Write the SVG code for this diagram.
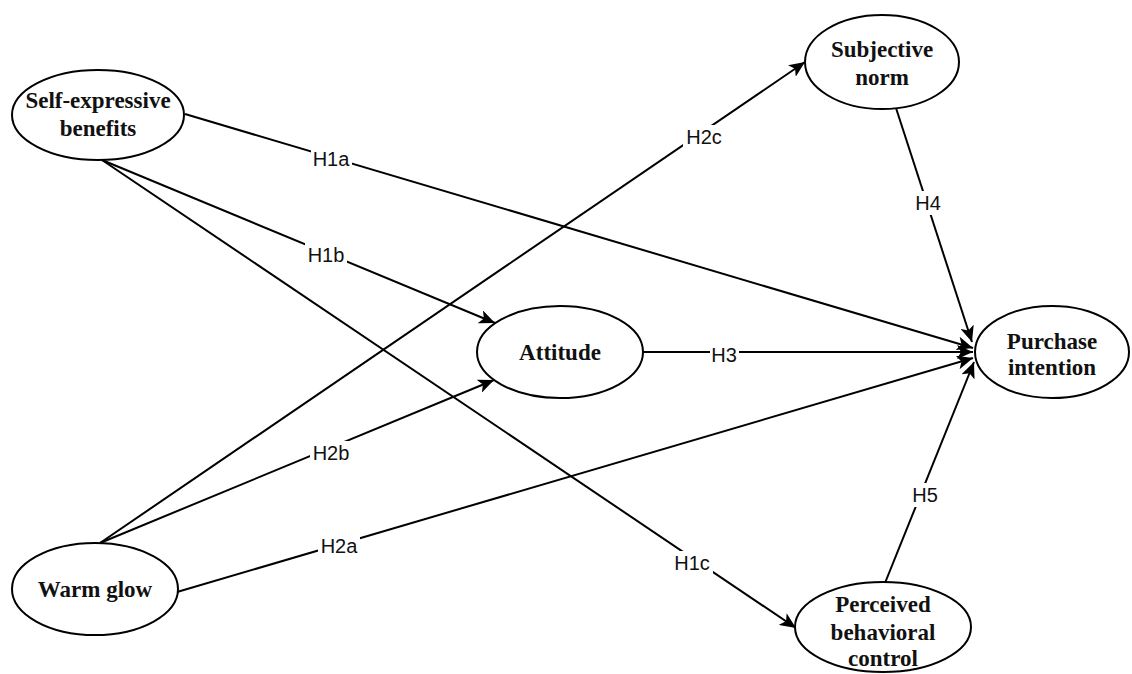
<svg xmlns="http://www.w3.org/2000/svg" width="1132" height="674" viewBox="0 0 1132 674">
<style>
.node ellipse{fill:#fff;stroke:#000;stroke-width:2}
.node text{font-family:"Liberation Serif",serif;font-weight:bold;font-size:23px;text-anchor:middle;fill:#111}
.edge line{stroke:#000;stroke-width:2}
.lbl rect{fill:#fff}
.lbl text{font-family:"Liberation Sans",Arial,sans-serif;font-size:20px;text-anchor:middle;fill:#111}
</style>
<defs>
<marker id="arr" markerUnits="userSpaceOnUse" markerWidth="18" markerHeight="14" refX="16" refY="7" orient="auto">
<path d="M0,0 L16,7 L0,14 L4,7 Z" fill="#000"/>
</marker>
</defs>
<rect width="1132" height="674" fill="#fff"/>
<g id="connectors" class="edge">
<line x1="185" y1="114" x2="973" y2="348" marker-end="url(#arr)"/>
<line x1="102" y1="160" x2="495" y2="323" marker-end="url(#arr)"/>
<line x1="102" y1="160" x2="796" y2="628" marker-end="url(#arr)"/>
<line x1="100" y1="543" x2="805" y2="62" marker-end="url(#arr)"/>
<line x1="100" y1="543" x2="494" y2="380" marker-end="url(#arr)"/>
<line x1="177" y1="592" x2="973" y2="358" marker-end="url(#arr)"/>
<line x1="643" y1="352" x2="973" y2="352" marker-end="url(#arr)"/>
<line x1="896" y1="108" x2="972" y2="342" marker-end="url(#arr)"/>
<line x1="885" y1="583" x2="974" y2="362" marker-end="url(#arr)"/>
</g>
<g id="labels" class="lbl">
<rect x="311" y="147" width="41" height="24"/><text x="331" y="166">H1a</text>
<rect x="305" y="243" width="42" height="24"/><text x="326" y="262">H1b</text>
<rect x="671" y="551" width="42" height="24"/><text x="692" y="570">H1c</text>
<rect x="683" y="125" width="42" height="24"/><text x="704" y="144">H2c</text>
<rect x="310" y="441" width="42" height="24"/><text x="331" y="460">H2b</text>
<rect x="318" y="534" width="42" height="24"/><text x="339" y="553">H2a</text>
<rect x="710" y="343" width="29" height="24"/><text x="724" y="362">H3</text>
<rect x="914" y="191" width="29" height="24"/><text x="928" y="210">H4</text>
<rect x="911" y="483" width="29" height="24"/><text x="925" y="502">H5</text>
</g>
<g id="self-expressive" class="node">
<ellipse cx="98" cy="115" rx="86" ry="45"/>
<text x="98" y="108">Self-expressive</text>
<text x="98" y="136">benefits</text>
</g>
<g id="subjective-norm" class="node">
<ellipse cx="882" cy="62" rx="77" ry="47"/>
<text x="882" y="57">Subjective</text>
<text x="882" y="85">norm</text>
</g>
<g id="attitude" class="node">
<ellipse cx="560" cy="352" rx="83" ry="46"/>
<text x="560" y="360">Attitude</text>
</g>
<g id="purchase-intention" class="node">
<ellipse cx="1052" cy="352" rx="77" ry="46"/>
<text x="1052" y="349">Purchase</text>
<text x="1052" y="375">intention</text>
</g>
<g id="warm-glow" class="node">
<ellipse cx="95" cy="589" rx="83" ry="46"/>
<text x="95" y="597">Warm glow</text>
</g>
<g id="perceived-behavioral-control" class="node">
<ellipse cx="883" cy="627" rx="88" ry="45"/>
<text x="883" y="612">Perceived</text>
<text x="883" y="640">behavioral</text>
<text x="883" y="666">control</text>
</g>
</svg>
